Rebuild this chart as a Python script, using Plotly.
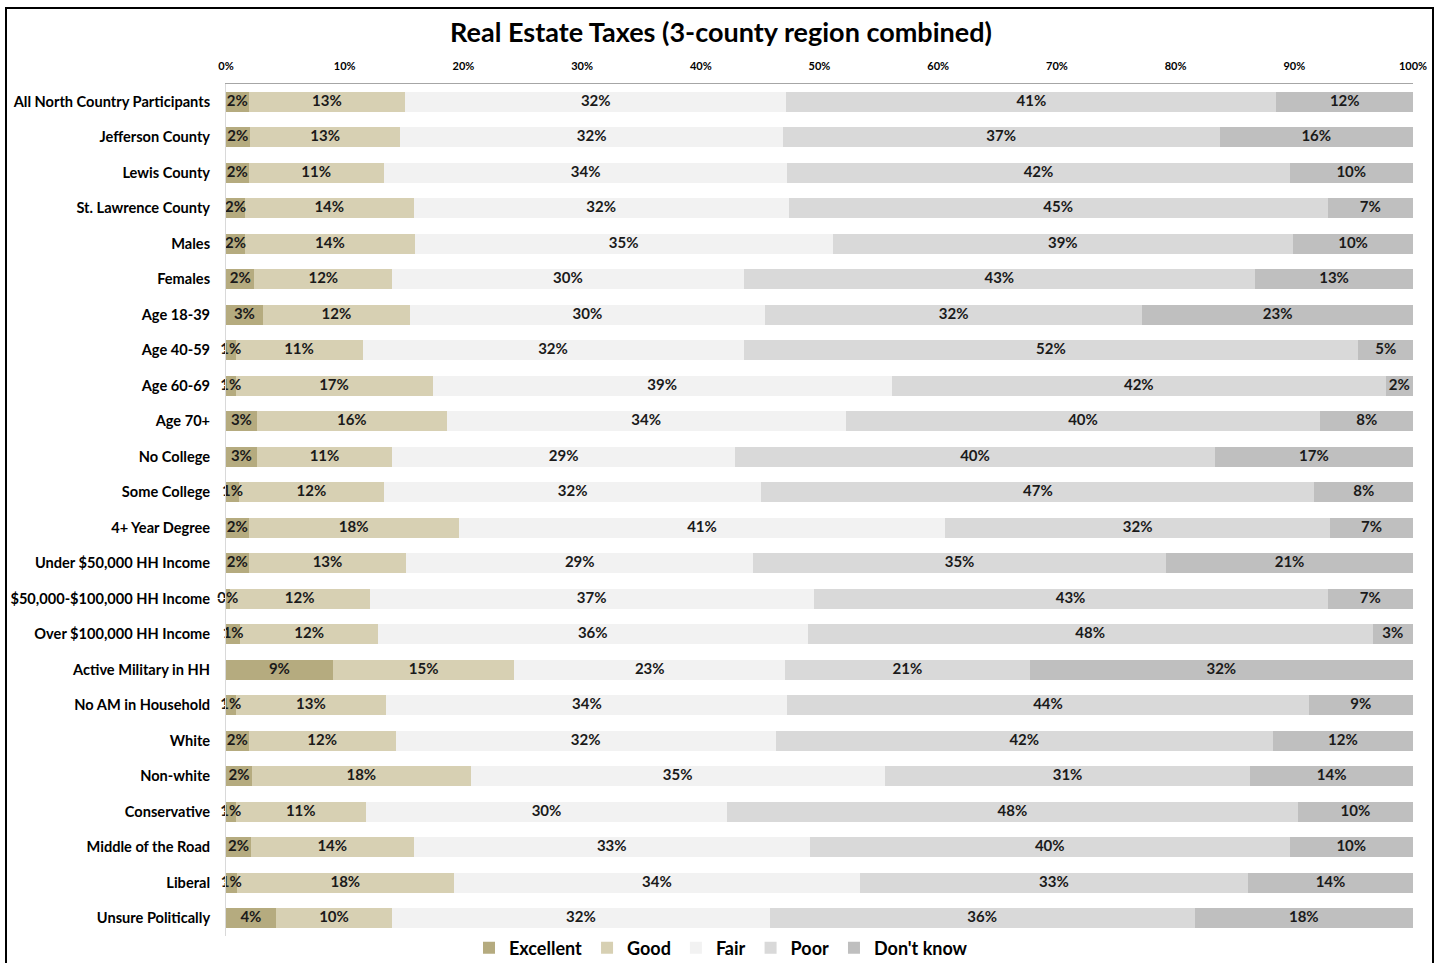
import plotly.graph_objects as go

categories = [
    "All North Country Participants", "Jefferson County", "Lewis County", "St. Lawrence County",
    "Males", "Females", "Age 18-39", "Age 40-59", "Age 60-69", "Age 70+",
    "No College", "Some College", "4+ Year Degree", "Under $50,000 HH Income",
    "$50,000-$100,000 HH Income", "Over $100,000 HH Income", "Active Military in HH",
    "No AM in Household", "White", "Non-white", "Conservative", "Middle of the Road",
    "Liberal", "Unsure Politically",
]

excellent = [1.9, 2.0, 1.9, 1.6, 1.6, 2.4, 3.1, 0.8, 0.8, 2.6, 2.6, 1.1, 1.9, 1.9,
             0.3, 1.2, 9.0, 0.8, 1.9, 2.2, 0.8, 2.1, 0.9, 4.2]
good = [13.2, 12.7, 11.4, 14.2, 14.3, 11.6, 12.4, 10.7, 16.6, 16.0, 11.4, 12.2, 17.7, 13.3,
        11.8, 11.6, 15.3, 12.7, 12.4, 18.4, 11.0, 13.7, 18.3, 9.8]
fair = [32.1, 32.2, 34.0, 31.6, 35.2, 29.6, 29.9, 32.1, 38.7, 33.6, 28.9, 31.8, 41.0, 29.2,
        37.4, 36.2, 22.8, 33.8, 32.0, 34.9, 30.4, 33.4, 34.2, 31.8]
poor = [41.3, 36.8, 42.3, 45.4, 38.8, 43.1, 31.8, 51.8, 41.6, 40.0, 40.4, 46.6, 32.4, 34.8,
        43.3, 47.6, 20.6, 43.9, 41.9, 30.8, 48.1, 40.4, 32.7, 35.8]
dont_know = [11.5, 16.3, 10.4, 7.2, 10.1, 13.3, 22.8, 4.6, 2.3, 7.8, 16.7, 8.3, 7.0, 20.8,
             7.2, 3.4, 32.3, 8.8, 11.8, 13.7, 9.7, 10.4, 13.9, 18.4]

series = [
    ("Excellent", excellent, "#B5AB7F"),
    ("Good", good, "#D7D0B3"),
    ("Fair", fair, "#F2F2F2"),
    ("Poor", poor, "#D9D9D9"),
    ("Don't know", dont_know, "#BFBFBF"),
]

FONT = "Lato"
W, H = 1442, 963
ML, MR, MT, MB = 226, 29, 84, 27
PW, PH = W - ML - MR, H - MT - MB

fig = go.Figure()
base = [0.0] * len(categories)
label_x, label_y, label_t = [], [], []
for name, vals, color in series:
    fig.add_trace(go.Bar(
        name=name,
        y=categories,
        x=vals,
        orientation="h",
        marker=dict(color=color, line=dict(width=0)),
        hoverinfo="skip",
    ))
    for i, v in enumerate(vals):
        label_x.append(base[i] + v / 2)
        label_y.append(categories[i])
        label_t.append(f"{round(v):d}%")
        base[i] += v

fig.add_trace(go.Scatter(
    x=label_x, y=label_y, text=label_t,
    mode="text",
    textposition="middle center",
    textfont=dict(family=FONT, size=15, color="#1a1a1a", weight="bold"),
    showlegend=False,
    hoverinfo="skip",
    cliponaxis=False,
))

fig.update_layout(
    barmode="stack",
    bargap=0.45,
    width=W,
    height=H,
    margin=dict(l=ML, r=MR, t=MT, b=MB, autoexpand=False),
    paper_bgcolor="white",
    plot_bgcolor="white",
    title=dict(
        text="Real Estate Taxes (3-county region combined)",
        x=0.5, xanchor="center", xref="container",
        y=1 - 33 / H, yanchor="middle",
        font=dict(family=FONT, size=27, color="black", weight="bold"),
    ),
    xaxis=dict(
        side="top",
        range=[0, 100],
        dtick=10,
        ticksuffix="%",
        showgrid=False,
        zeroline=False,
        showline=True,
        linecolor="#A6A6A6",
        linewidth=1,
        ticks="outside",
        ticklen=9,
        tickcolor="white",
        tickfont=dict(family=FONT, size=11, color="black", weight="bold"),
        fixedrange=True,
    ),
    yaxis=dict(
        type="category",
        categoryorder="array",
        categoryarray=categories,
        range=[len(categories) - 0.5, -0.5],
        autorange=False,
        showgrid=False,
        showline=True,
        linecolor="#D9D9D9",
        ticks="outside",
        ticklen=12,
        tickcolor="white",
        tickfont=dict(family=FONT, size=14.6, color="black", weight="bold"),
        fixedrange=True,
    ),
    legend=dict(
        orientation="h",
        x=(721 - ML) / PW, xanchor="center",
        y=-(948 - (H - MB)) / PH, yanchor="middle",
        font=dict(family=FONT, size=18, color="black", weight="bold"),
        traceorder="normal",
        itemclick=False,
        itemwidth=30,
    ),
    showlegend=True,
)

fig.add_shape(
    type="rect", xref="paper", yref="paper",
    x0=(6 - ML) / PW, x1=(1433 - ML) / PW,
    y0=-0.06, y1=1 + (MT - 8) / PH,
    line=dict(color="black", width=2), fillcolor="rgba(0,0,0,0)", layer="above",
)

fig.write_html("out.html", config={"displayModeBar": False},
               post_script="document.body.style.margin='0';")
